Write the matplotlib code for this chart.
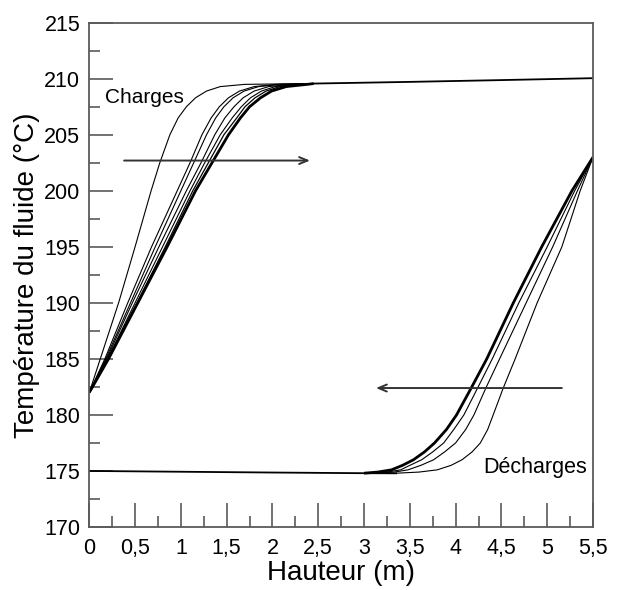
import matplotlib
matplotlib.use("Agg")
import matplotlib.pyplot as plt
from matplotlib.ticker import MultipleLocator, FuncFormatter

plt.rcParams['font.family'] = ['Liberation Sans', 'DejaVu Sans']

# --- Charges : hauteur (m) lue pour chaque niveau de temperature ---
charge_levels = [182, 185, 190, 195, 200, 202.5, 205, 206.5, 207.5, 208.3, 208.9, 209.3, 209.5]
charge_A = [0, 0.12, 0.32, 0.50, 0.675, 0.77, 0.88, 0.97, 1.06, 1.16, 1.28, 1.43, 1.70]
charge_B = [0, 0.17, 0.42, 0.68, 0.96, 1.10, 1.23, 1.33, 1.42, 1.52, 1.64, 1.80, 2.05]
charge_B2 = [0, 0.18, 0.45, 0.72, 1.00, 1.14, 1.28, 1.38, 1.47, 1.57, 1.69, 1.85, 2.10]
charge_C = [0, 0.19, 0.47, 0.76, 1.06, 1.22, 1.37, 1.48, 1.58, 1.68, 1.80, 1.96, 2.20]
charge_D = [0, 0.20, 0.50, 0.80, 1.10, 1.26, 1.43, 1.56, 1.66, 1.76, 1.88, 2.03, 2.25]
charge_E = [0, 0.20, 0.52, 0.83, 1.13, 1.30, 1.47, 1.61, 1.70, 1.81, 1.93, 2.08, 2.30]
charge_F = [0, 0.21, 0.53, 0.85, 1.16, 1.34, 1.52, 1.65, 1.75, 1.87, 1.99, 2.15, 2.38]  # faisceau epais
plateau_x = [2.45, 3.5, 4.5, 5.5]
plateau_y = [209.57, 209.72, 209.88, 210.05]

# --- Decharges ---
base_x = [0, 1, 2, 3, 3.35]
base_y = [175.0, 174.93, 174.86, 174.8, 174.79]
dech_levels = [174.8, 174.9, 175.1, 175.5, 176, 176.7, 177.5, 178.7, 180, 182.4, 185, 190, 195, 200, 203]
dech_G = [3.00, 3.15, 3.30, 3.42, 3.54, 3.66, 3.77, 3.90, 4.01, 4.17, 4.34, 4.63, 4.94, 5.27, 5.5]  # faisceau epais
dech_H = [3.10, 3.25, 3.40, 3.50, 3.63, 3.75, 3.87, 3.98, 4.09, 4.24, 4.40, 4.69, 5.00, 5.30, 5.5]
dech_I = [3.15, 3.33, 3.48, 3.62, 3.76, 3.88, 4.00, 4.11, 4.20, 4.33, 4.48, 4.77, 5.06, 5.33, 5.5]
dech_K = [3.35, 3.60, 3.80, 3.95, 4.07, 4.18, 4.27, 4.35, 4.41, 4.52, 4.65, 4.89, 5.16, 5.36, 5.5]

fig = plt.figure(figsize=(6.17, 5.90), dpi=100)
ax = fig.add_axes([0.1447, 0.1068, 0.9611 - 0.1447, 0.9615 - 0.1068])

ax.plot(plateau_x, plateau_y, color='black', lw=1.3)
for xs, lw in [(charge_A, 0.8), (charge_B, 0.8), (charge_B2, 0.8), (charge_C, 0.8),
               (charge_D, 0.8), (charge_E, 0.9), (charge_F, 2.0)]:
    ax.plot(xs + plateau_x[:1], charge_levels + plateau_y[:1], color='black', lw=lw,
            solid_capstyle='butt')

ax.plot(base_x, base_y, color='black', lw=1.3)
for xs, lw in [(dech_G, 2.0), (dech_H, 0.8), (dech_I, 0.8), (dech_K, 0.8)]:
    ax.plot(xs, dech_levels, color='black', lw=lw, solid_capstyle='butt')

arrow_kw = dict(arrowstyle='->,head_length=0.6,head_width=0.25', color='#333333', lw=1.4)
ax.annotate('', xy=(2.44, 202.7), xytext=(0.35, 202.7), arrowprops=arrow_kw)
ax.annotate('', xy=(3.10, 182.4), xytext=(5.19, 182.4), arrowprops=arrow_kw)

ax.text(0.17, 207.85, 'Charges', fontsize=15, va='baseline', ha='left')
ax.text(4.30, 174.8, 'Décharges', fontsize=15.5, va='baseline', ha='left')

ax.set_xlim(0, 5.5)
ax.set_ylim(170, 215)
ax.xaxis.set_major_locator(MultipleLocator(0.5))
ax.xaxis.set_minor_locator(MultipleLocator(0.25))
ax.yaxis.set_major_locator(MultipleLocator(5))
ax.yaxis.set_minor_locator(MultipleLocator(2.5))
ax.xaxis.set_major_formatter(FuncFormatter(lambda v, p: ('%g' % v).replace('.', ',')))

spine_col = '#5a5a5a'
for s in ax.spines.values():
    s.set_color(spine_col)
    s.set_linewidth(1.3)
ax.tick_params(which='both', direction='in', colors=spine_col, labelcolor='black',
               width=1.2, labelsize=15.5, top=False, right=False)
ax.tick_params(axis='x', which='major', length=17, pad=8)
ax.tick_params(axis='x', which='minor', length=8)
ax.tick_params(axis='y', which='major', length=17, pad=6.5)
ax.tick_params(axis='y', which='minor', length=8)

ax.set_xlabel('Hauteur (m)', fontsize=20, labelpad=1)
ax.set_ylabel('Température du fluide (°C)', fontsize=20, labelpad=3)

fig.savefig('out.png', dpi=100)
